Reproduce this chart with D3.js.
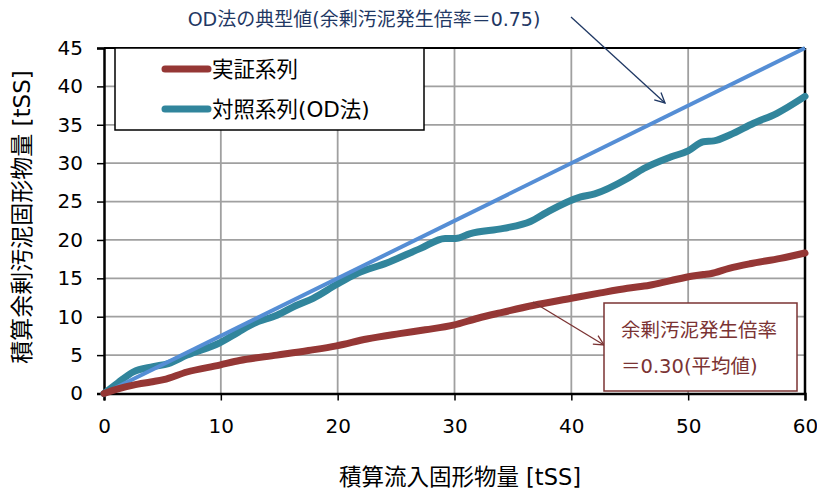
<!DOCTYPE html>
<html>
<head>
<meta charset="utf-8">
<script src="https://cdn.jsdelivr.net/npm/d3@7"></script>
<style>
  html, body { margin: 0; padding: 0; background: #fff; }
  svg { display: block; font-family: "DejaVu Sans", "Noto Sans CJK JP", sans-serif; }
</style>
</head>
<body>
<svg id="chart" width="817" height="490"></svg>
<script>
// Cumulative inflow solids [tSS] vs cumulative excess sludge solids [tSS]
const demoX = [0, 1.2, 2.5, 4, 5.1, 7.1, 9.9, 11.6, 14.8, 17.5, 19.9, 22.5, 25.3, 27.5, 29.9, 32, 33.9, 36.8, 40, 42.5, 44.8, 46.7, 48.5, 50.4, 51.3, 51.9, 53.5, 55.3, 57.9, 60];
const demoY = [0, 0.6, 1.1, 1.5, 1.8, 2.8, 3.7, 4.3, 5.0, 5.6, 6.2, 7.1, 7.8, 8.3, 8.9, 9.8, 10.5, 11.5, 12.4, 13.1, 13.7, 14.1, 14.7, 15.3, 15.5, 15.6, 16.3, 16.9, 17.6, 18.3];

const odX = [0, 1.2, 2.5, 4.2, 5.5, 7.1, 9.9, 11.5, 12.8, 14.8, 16.5, 17.9, 19.9, 21.6, 24.2, 27.1, 29.2, 30.1, 31.3, 34.2, 36.5, 37.9, 40.8, 42, 44.8, 46.2, 48.5, 50, 51.3, 52.2, 53.6, 55.6, 57.6, 60];
const odY = [0, 1.4, 2.8, 3.5, 3.9, 5.0, 6.6, 8.0, 9.1, 10.2, 11.5, 12.4, 14.2, 15.6, 17.0, 18.9, 20.2, 20.2, 20.8, 21.5, 22.4, 23.6, 25.6, 26.0, 28.0, 29.3, 30.8, 31.6, 32.8, 32.9, 33.7, 35.2, 36.5, 38.7];

// typical OD value: excess sludge ratio 0.75
const typicalX = [0, 60];
const typicalY = [0, 45];

const xTicks = [0, 10, 20, 30, 40, 50, 60];
const yTicks = [0, 5, 10, 15, 20, 25, 30, 35, 40, 45];

const seriesNames = ["実証系列", "対照系列(OD法)"];
const xTitle = "積算流入固形物量 [tSS]";
const yTitle = "積算余剰汚泥固形物量 [tSS]";
const noteTop = "OD法の典型値(余剰汚泥発生倍率＝0.75)";
const noteBox = ["余剰汚泥発生倍率", "＝0.30(平均値)"];

const svg = d3.select("#chart");
const plot = { left: 104, right: 805, top: 48, bottom: 393.5 };

const x = d3.scaleLinear().domain([0, 60]).range([plot.left, plot.right]);
const y = d3.scaleLinear().domain([0, 45]).range([plot.bottom, plot.top]);

const gridColor = "#a0a0a0";
const demoColor = "#953735";
const odColor = "#31859c";
const typColor = "#558ed5";
const navy = "#1f3864";
const maroon = "#7b3333";

// gridlines
svg.append("g").selectAll("line.v").data(xTicks.slice(1, -1)).join("line")
  .attr("x1", d => x(d)).attr("x2", d => x(d))
  .attr("y1", plot.top).attr("y2", plot.bottom)
  .attr("stroke", gridColor).attr("stroke-width", 1.8);
svg.append("g").selectAll("line.h").data(yTicks.slice(1, -1)).join("line")
  .attr("x1", plot.left).attr("x2", plot.right)
  .attr("y1", d => y(d)).attr("y2", d => y(d))
  .attr("stroke", gridColor).attr("stroke-width", 1.8);

// axes
const xAxis = svg.append("g")
  .attr("transform", `translate(0,${plot.bottom})`)
  .call(d3.axisBottom(x).tickValues(xTicks).tickSize(7).tickPadding(14));
const yAxis = svg.append("g")
  .attr("transform", `translate(${plot.left},0)`)
  .call(d3.axisLeft(y).tickValues(yTicks).tickSize(7).tickPadding(14));
[xAxis, yAxis].forEach(g => {
  g.select(".domain").attr("stroke", "#000").attr("stroke-width", 2.5);
  g.selectAll(".tick line").attr("stroke", "#000").attr("stroke-width", 1.5);
  g.selectAll(".tick text").attr("font-size", 20).attr("fill", "#000")
    .attr("font-family", "DejaVu Sans, sans-serif");
});
xAxis.selectAll(".tick text").attr("dy", "0.9em");

// top and right frame
svg.append("line").attr("x1", plot.left).attr("x2", plot.right)
  .attr("y1", plot.top).attr("y2", plot.top).attr("stroke", "#000").attr("stroke-width", 2);
svg.append("line").attr("x1", plot.right).attr("x2", plot.right)
  .attr("y1", plot.top).attr("y2", plot.bottom).attr("stroke", "#000").attr("stroke-width", 2.5);

// series (the typical-value line sits above the control series)
const line = d3.line().x(d => x(d[0])).y(d => y(d[1])).curve(d3.curveMonotoneX);
const zip = (a, b) => a.map((v, i) => [v, b[i]]);

svg.append("path").datum(zip(odX, odY)).attr("d", line)
  .attr("fill", "none").attr("stroke", odColor).attr("stroke-width", 7)
  .attr("stroke-linejoin", "round").attr("stroke-linecap", "round");
svg.append("path").datum(zip(typicalX, typicalY))
  .attr("d", d3.line().x(d => x(d[0])).y(d => y(d[1])))
  .attr("fill", "none").attr("stroke", typColor).attr("stroke-width", 4);
svg.append("path").datum(zip(demoX, demoY)).attr("d", line)
  .attr("fill", "none").attr("stroke", demoColor).attr("stroke-width", 7)
  .attr("stroke-linejoin", "round").attr("stroke-linecap", "round");

// legend
const legend = svg.append("g");
legend.append("rect").attr("x", 115).attr("y", 48).attr("width", 309).attr("height", 82)
  .attr("fill", "#fff").attr("stroke", "#000").attr("stroke-width", 1.5);
[[demoColor, 69], [odColor, 109]].forEach(([c, ly], i) => {
  legend.append("line").attr("x1", 165).attr("x2", 208).attr("y1", ly).attr("y2", ly)
    .attr("stroke", c).attr("stroke-width", 7).attr("stroke-linecap", "round");
  legend.append("text").attr("x", 212).attr("y", ly).attr("dy", "0.36em")
    .attr("font-size", 21.5).attr("fill", "#000").text(seriesNames[i]);
});

// arrow markers
const defs = svg.append("defs");
[["arrNavy", navy], ["arrMaroon", maroon]].forEach(([id, c]) => {
  defs.append("marker").attr("id", id).attr("viewBox", "0 0 12 12")
    .attr("refX", 11).attr("refY", 6).attr("markerWidth", 12).attr("markerHeight", 12)
    .attr("markerUnits", "userSpaceOnUse").attr("orient", "auto")
    .append("path").attr("d", "M1,1 L11,6 L1,11").attr("fill", "none")
    .attr("stroke", c).attr("stroke-width", 1.3);
});

// typical-value callout
svg.append("text").attr("x", 364).attr("y", 19).attr("dy", "0.36em")
  .attr("text-anchor", "middle").attr("font-size", 19).attr("fill", navy).text(noteTop);
svg.append("line").attr("x1", 571).attr("y1", 17).attr("x2", 665).attr("y2", 103)
  .attr("stroke", navy).attr("stroke-width", 1.3).attr("marker-end", "url(#arrNavy)");

// average ratio callout
svg.append("line").attr("x1", 533).attr("y1", 302).attr("x2", 604).attr("y2", 345)
  .attr("stroke", maroon).attr("stroke-width", 1.3).attr("marker-end", "url(#arrMaroon)");
svg.append("rect").attr("x", 604).attr("y", 303).attr("width", 193).attr("height", 88)
  .attr("fill", "#fff").attr("stroke", maroon).attr("stroke-width", 1.5);
svg.append("text").attr("x", 699).attr("y", 330).attr("dy", "0.36em")
  .attr("text-anchor", "middle").attr("font-size", 19.5).attr("fill", maroon).text(noteBox[0]);
svg.append("text").attr("x", 621).attr("y", 366).attr("dy", "0.36em")
  .attr("font-size", 19.5).attr("fill", maroon).text(noteBox[1]);

// axis titles
svg.append("text").attr("x", 460).attr("y", 477).attr("dy", "0.36em")
  .attr("text-anchor", "middle").attr("font-size", 22.5).attr("fill", "#000").text(xTitle);
svg.append("text").attr("transform", "translate(22,217) rotate(-90)").attr("dy", "0.36em")
  .attr("text-anchor", "middle").attr("font-size", 23).attr("fill", "#000").text(yTitle);
</script>
</body>
</html>
